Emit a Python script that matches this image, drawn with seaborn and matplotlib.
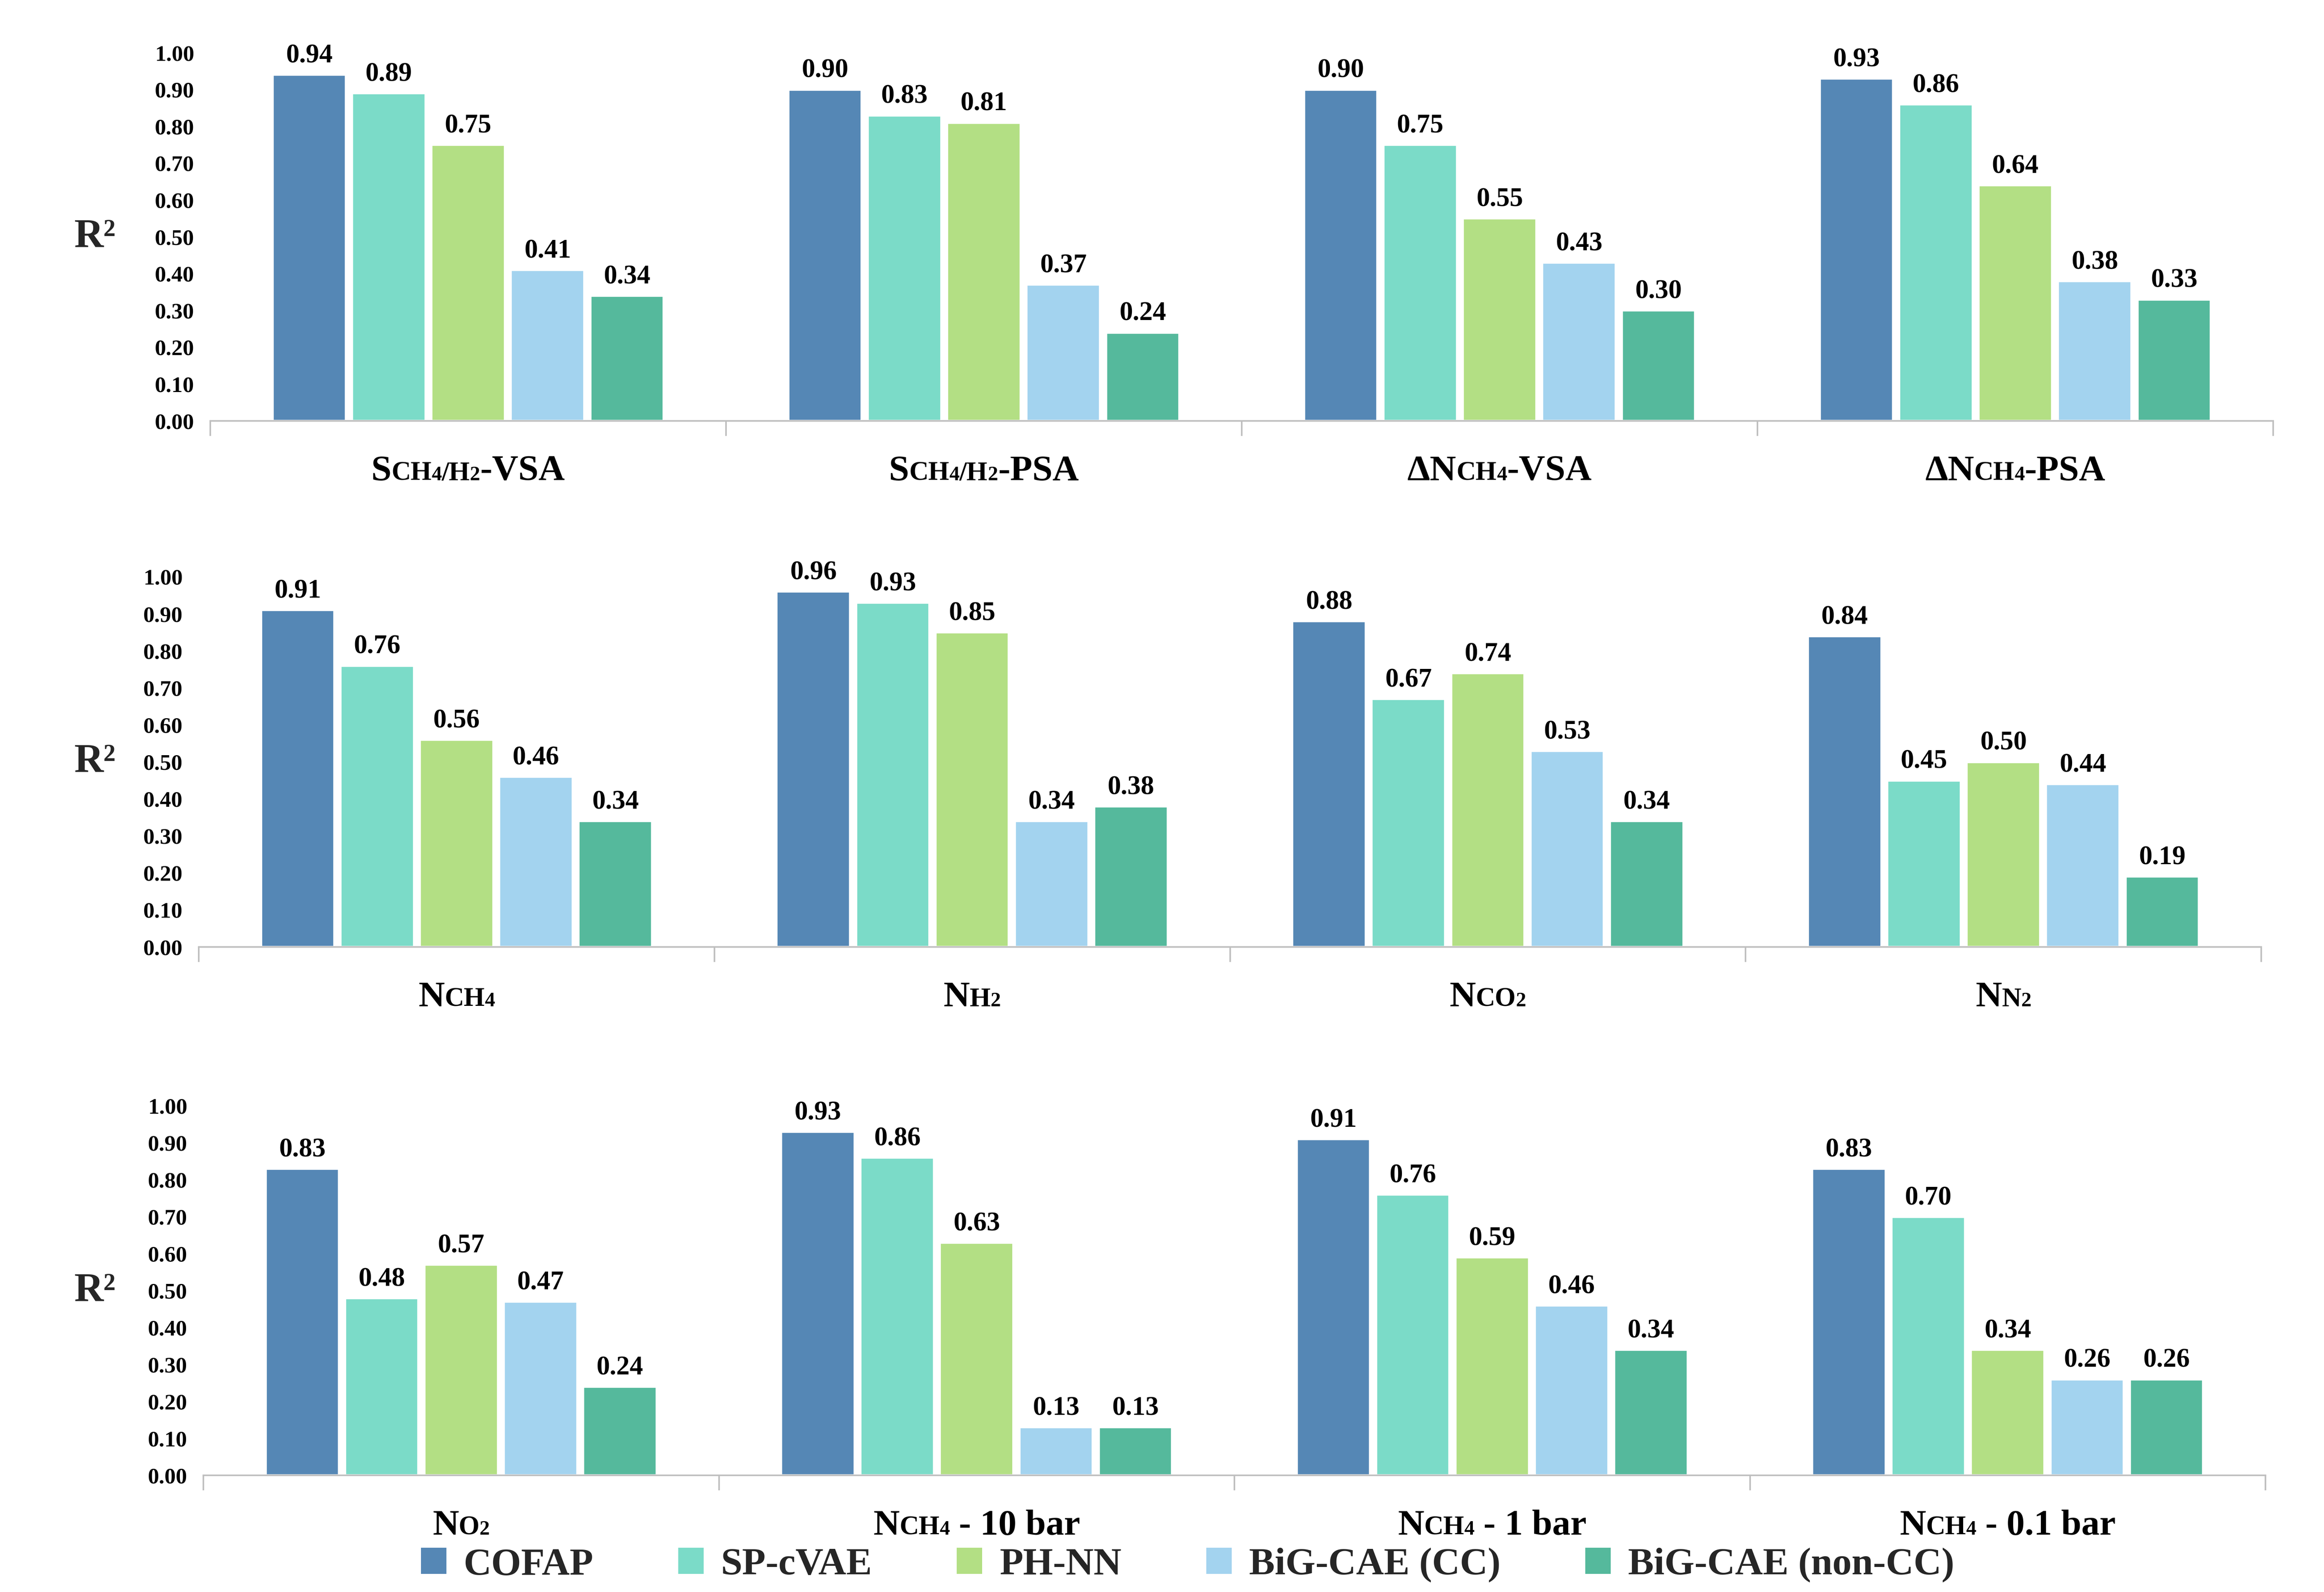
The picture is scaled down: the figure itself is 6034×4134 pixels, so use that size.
import numpy as np
import pandas as pd
import matplotlib
matplotlib.use("Agg")
import matplotlib.pyplot as plt
import matplotlib.transforms as mtransforms
from matplotlib.patches import Patch
from matplotlib.offsetbox import TextArea, HPacker, AnnotationBbox
import seaborn as sns

# ---------------- data ----------------
models = ["COFAP", "SP-cVAE", "PH-NN", "BiG-CAE (CC)", "BiG-CAE (non-CC)"]
colors = ["#5587B5", "#7BDBC8", "#B3DF84", "#A3D3EF", "#55B99C"]

row1_cats = ["SCH4/H2-VSA", "SCH4/H2-PSA", "ΔNCH4-VSA", "ΔNCH4-PSA"]
row1_vals = {
    "COFAP":            [0.94, 0.90, 0.90, 0.93],
    "SP-cVAE":          [0.89, 0.83, 0.75, 0.86],
    "PH-NN":            [0.75, 0.81, 0.55, 0.64],
    "BiG-CAE (CC)":     [0.41, 0.37, 0.43, 0.38],
    "BiG-CAE (non-CC)": [0.34, 0.24, 0.30, 0.33],
}
row2_cats = ["NCH4", "NH2", "NCO2", "NN2"]
row2_vals = {
    "COFAP":            [0.91, 0.96, 0.88, 0.84],
    "SP-cVAE":          [0.76, 0.93, 0.67, 0.45],
    "PH-NN":            [0.56, 0.85, 0.74, 0.50],
    "BiG-CAE (CC)":     [0.46, 0.34, 0.53, 0.44],
    "BiG-CAE (non-CC)": [0.34, 0.38, 0.34, 0.19],
}
row3_cats = ["NO2", "NCH4 - 10 bar", "NCH4 - 1 bar", "NCH4 - 0.1 bar"]
row3_vals = {
    "COFAP":            [0.83, 0.93, 0.91, 0.83],
    "SP-cVAE":          [0.48, 0.86, 0.76, 0.70],
    "PH-NN":            [0.57, 0.63, 0.59, 0.34],
    "BiG-CAE (CC)":     [0.47, 0.13, 0.46, 0.26],
    "BiG-CAE (non-CC)": [0.24, 0.13, 0.34, 0.26],
}

# label pieces: (text, level) level 0 = main, 1 = subscript, 2 = sub-subscript
label_parts = {
    "SCH4/H2-VSA": [("S", 0), ("CH", 1), ("4", 2), ("/H", 1), ("2", 2), ("-VSA", 0)],
    "SCH4/H2-PSA": [("S", 0), ("CH", 1), ("4", 2), ("/H", 1), ("2", 2), ("-PSA", 0)],
    "ΔNCH4-VSA": [("ΔN", 0), ("CH", 1), ("4", 2), ("-VSA", 0)],
    "ΔNCH4-PSA": [("ΔN", 0), ("CH", 1), ("4", 2), ("-PSA", 0)],
    "NCH4": [("N", 0), ("CH", 1), ("4", 2)],
    "NH2": [("N", 0), ("H", 1), ("2", 2)],
    "NCO2": [("N", 0), ("CO", 1), ("2", 2)],
    "NN2": [("N", 0), ("N", 1), ("2", 2)],
    "NO2": [("N", 0), ("O", 1), ("2", 2)],
    "NCH4 - 10 bar": [("N", 0), ("CH", 1), ("4", 2), (" - 10 bar", 0)],
    "NCH4 - 1 bar": [("N", 0), ("CH", 1), ("4", 2), (" - 1 bar", 0)],
    "NCH4 - 0.1 bar": [("N", 0), ("CH", 1), ("4", 2), (" - 0.1 bar", 0)],
}

yticks = [0.0, 0.1, 0.2, 0.3, 0.4, 0.5, 0.6, 0.7, 0.8, 0.9, 1.0]

# ---------------- style ----------------
sns.set_theme(style="white")
FONT = ["Liberation Serif", "DejaVu Serif"]
plt.rcParams["font.family"] = FONT
plt.rcParams["font.weight"] = "bold"

W, H, DPI = 6034, 4134, 400
fig = plt.figure(figsize=(W / DPI, H / DPI), dpi=DPI)
fig.patch.set_facecolor("white")

rows = [
    (row1_cats, row1_vals, [546 / W, 1 - 1093 / H, (5902 - 546) / W, (1093 - 137) / H]),
    (row2_cats, row2_vals, [516 / W, 1 - 2459 / H, (5871 - 516) / W, (2459 - 1498) / H]),
    (row3_cats, row3_vals, [528 / W, 1 - 3831 / H, (5882 - 528) / W, (3831 - 2872) / H]),
]

main_fs = 17
sizes = {0: main_fs, 1: 12.5, 2: 9.6}

for cats, vals, rect in rows:
    ax = fig.add_axes(rect)
    recs = []
    for m in models:
        for c, v in zip(cats, vals[m]):
            recs.append({"cat": c, "model": m, "r2": v})
    df = pd.DataFrame(recs)
    sns.barplot(data=df, x="cat", y="r2", hue="model", order=cats, hue_order=models,
                palette=colors, saturation=1, width=0.77, gap=0.075,
                errorbar=None, legend=False, ax=ax)
    for cont in ax.containers:
        ax.bar_label(cont, fmt="%.2f", padding=3, fontsize=12.5, fontweight="bold",
                     family=FONT, color="black")
    ax.set_xlim(-0.5, len(cats) - 0.5)
    ax.set_ylim(0, 1.0)
    ax.set_yticks(yticks)
    ax.set_yticklabels([f"{t:.2f}" for t in yticks], fontsize=10.5,
                       fontweight="bold", family=FONT)
    ax.tick_params(axis="y", length=0, pad=7.5, colors="black")
    ax.set_xticks(range(len(cats)))
    ax.set_xticklabels([])
    ax.tick_params(axis="x", which="major", length=0)
    ax.set_xticks(np.arange(-0.5, len(cats), 1.0), minor=True)
    ax.tick_params(axis="x", which="minor", bottom=True, length=7, width=0.75,
                   color="#BFBFBF", direction="out")
    ax.set_xlabel("")
    for s in ["left", "top", "right"]:
        ax.spines[s].set_visible(False)
    ax.spines["bottom"].set_color("#BFBFBF")
    ax.spines["bottom"].set_linewidth(0.75)
    ax.grid(False)

    ax.set_ylabel("R²", rotation=0, fontsize=19, fontweight="bold", family=FONT,
                  va="center", ha="center")
    ax.yaxis.set_label_coords(246 / W, 0.5,
                              transform=mtransforms.blended_transform_factory(
                                  fig.transFigure, ax.transAxes))

    # category labels with chemical subscripts (smaller text on baseline)
    for i, c in enumerate(cats):
        children = [TextArea(t, textprops=dict(fontsize=sizes[lvl], fontweight="bold",
                                               family=FONT, color="black"))
                    for t, lvl in label_parts[c]]
        pack = HPacker(children=children, align="baseline", pad=0, sep=0)
        ab = AnnotationBbox(pack, (i, 0), xycoords=ax.get_xaxis_transform(),
                            xybox=(0, -16), boxcoords="offset points",
                            box_alignment=(0.5, 1.0), frameon=False,
                            annotation_clip=False, pad=0)
        ax.add_artist(ab)

handles = [Patch(facecolor=c, edgecolor="none", label=m) for m, c in zip(models, colors)]
fig.legend(handles=handles, loc="center", bbox_to_anchor=(0.511, 1 - 4064 / H),
           ncol=5, frameon=False, prop=dict(family=FONT, weight="bold", size=18),
           handlelength=0.66, handleheight=0.66, handletextpad=0.45,
           columnspacing=2.2, borderaxespad=0, borderpad=0)

fig.savefig("out.png", dpi=DPI, facecolor="white")
